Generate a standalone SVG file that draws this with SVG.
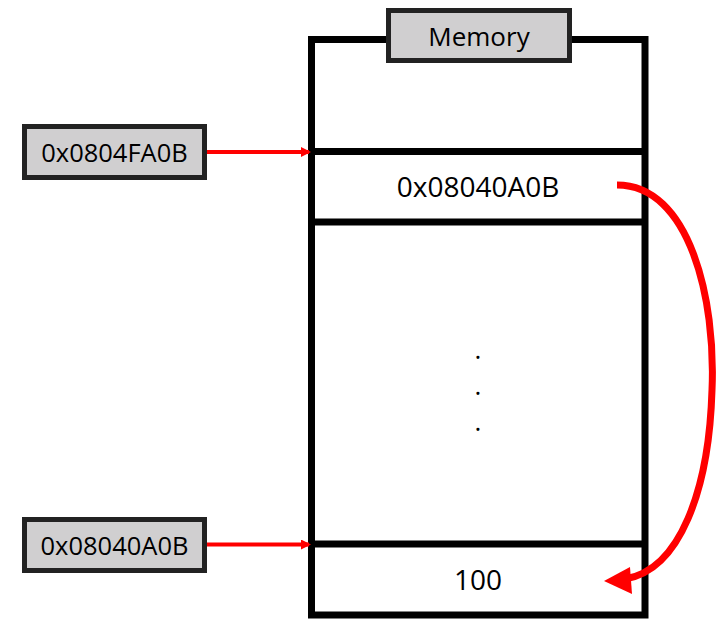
<svg xmlns="http://www.w3.org/2000/svg" width="726" height="637" viewBox="0 0 726 637">
<style>
.lbl{fill:#d0cfd0;stroke:#222;stroke-width:5}
.t{font-family:"Open Sans","Noto Sans",sans-serif;fill:#000;text-anchor:middle}
.s25{font-size:25.5px}
.s26{font-size:26px}
.s28{font-size:28px}
.mem{fill:none;stroke:#000;stroke-width:7}
.red{stroke:#ff0000;fill:none}
</style>
<defs>
<marker id="ah" markerWidth="10" markerHeight="10" refX="8" refY="5" orient="auto" markerUnits="userSpaceOnUse">
<path d="M0,0 L10,5 L0,10 Z" fill="#ff0000"/>
</marker>
</defs>
<g id="memory">
<rect class="mem" x="311.5" y="39.5" width="333.5" height="575.5"/>
<line class="mem" x1="311.5" y1="151.5" x2="645" y2="151.5"/>
<line class="mem" x1="311.5" y1="222" x2="645" y2="222"/>
<line class="mem" x1="311.5" y1="544" x2="645" y2="544"/>
</g>
<g id="memory-label">
<rect class="lbl" x="388.5" y="10.5" width="181" height="50"/>
<text class="t s26" x="479" y="46">Memory</text>
</g>
<g id="cell-pointer">
<text class="t s28" x="478" y="197">0x08040A0B</text>
</g>
<g id="dots">
<text class="t s26" x="478" y="359">.</text>
<text class="t s26" x="478" y="395">.</text>
<text class="t s26" x="478" y="431">.</text>
</g>
<g id="cell-value">
<text class="t s28" x="478" y="590">100</text>
</g>
<g id="addr1">
<rect class="lbl" x="24.5" y="126.5" width="180" height="51"/>
<text class="t s25" x="114.5" y="162">0x0804FA0B</text>
</g>
<g id="addr2">
<rect class="lbl" x="24.5" y="519.5" width="180" height="51"/>
<text class="t s25" x="114.5" y="554.5">0x08040A0B</text>
</g>
<g id="connectors">
<line class="red" stroke-width="4" x1="207" y1="152" x2="309" y2="152" marker-end="url(#ah)"/>
<line class="red" stroke-width="4" x1="207" y1="544.5" x2="309" y2="544.5" marker-end="url(#ah)"/>
<path class="red" stroke-width="7" d="M617,185 C690,185 716,300 712,390 C709,490 680,570 625,579"/>
<polygon points="604,581 630,567 632,594" fill="#ff0000"/>
</g>
</svg>
